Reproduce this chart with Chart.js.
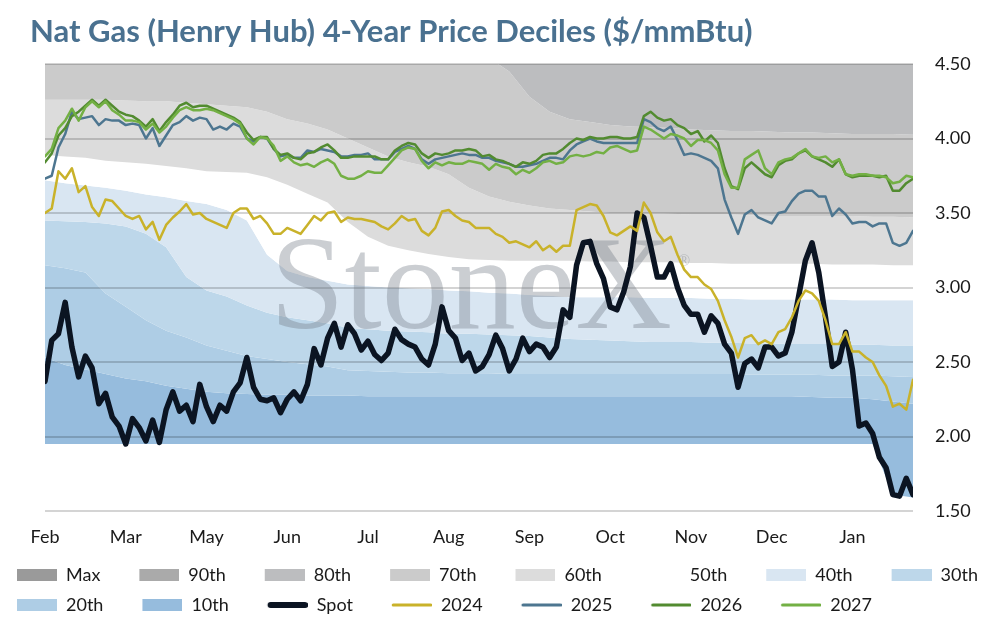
<!DOCTYPE html>
<html>
<head>
<meta charset="utf-8">
<title>Nat Gas (Henry Hub) 4-Year Price Deciles</title>
<script src="https://cdn.jsdelivr.net/npm/chart.js@4.4.1/dist/chart.umd.min.js"></script>
<style>
  html, body { margin: 0; padding: 0; background: #ffffff; }
  #box { width: 992px; height: 620px; }
  canvas { display: block; }
</style>
</head>
<body>
<div id="box"><canvas id="chart" width="992" height="620"></canvas></div>
<script>
// ---------------- data ----------------
const tickLabels = ['Feb', 'Mar', 'May', 'Jun', 'Jul', 'Aug', 'Sep', 'Oct', 'Nov', 'Dec', 'Jan'];
const bandLabels = ['Max', '90th', '80th', '70th', '60th', '50th', '40th', '30th', '20th', '10th'];
const lineLabels = ['Spot', '2024', '2025', '2026', '2027'];
const LINE_STEP = 2;   // trading days between line samples
const BAND_STEP = 6;   // trading days between decile samples
const X_MAX = 258;
const TICK_STEP = 24;

// decile boundaries ($/mmBtu), sampled every BAND_STEP days
const bandMax = [7.20, 7.19, 7.15, 7.14, 7.13, 7.09, 7.08, 7.05, 7.04, 7.01,
                 7.00, 6.97, 6.96, 6.93, 6.92, 6.90, 6.87, 6.86, 6.83, 6.82,
                 6.78, 6.76, 6.74, 6.70, 6.66, 6.64, 6.63, 6.60, 6.57, 6.56,
                 6.54, 6.51, 6.50, 6.49, 6.47, 6.47, 6.46, 6.44, 6.44, 6.43,
                 6.41, 6.41, 6.40, 6.39];
const band90 = [6.00, 5.98, 5.97, 5.94, 5.92, 5.91, 5.88, 5.86, 5.85, 5.82,
                5.80, 5.79, 5.76, 5.74, 5.73, 5.70, 5.68, 5.67, 5.64, 5.62,
                5.59, 5.57, 5.53, 5.50, 5.47, 5.45, 5.42, 5.40, 5.39, 5.36,
                5.34, 5.33, 5.30, 5.29, 5.28, 5.27, 5.26, 5.25, 5.24, 5.23,
                5.22, 5.21, 5.20, 5.19];
const band80 = [5.45, 5.43, 5.41, 5.40, 5.38, 5.36, 5.34, 5.32, 5.30, 5.28,
                5.26, 5.24, 5.22, 5.20, 5.18, 5.16, 5.14, 5.12, 5.10, 5.08,
                5.05, 5.02, 4.99, 4.96, 4.93, 4.90, 4.88, 4.86, 4.84, 4.82,
                4.80, 4.78, 4.76, 4.75, 4.74, 4.73, 4.72, 4.71, 4.70, 4.69,
                4.68, 4.67, 4.66, 4.65];
const band70 = [4.95, 4.94, 4.93, 4.92, 4.91, 4.90, 4.88, 4.87, 4.86, 4.84,
                4.82, 4.80, 4.78, 4.76, 4.74, 4.72, 4.70, 4.68, 4.66, 4.64,
                4.61, 4.58, 4.54, 4.45, 4.28, 4.18, 4.13, 4.11, 4.09, 4.08,
                4.075, 4.07, 4.06, 4.055, 4.05, 4.05, 4.045, 4.04, 4.04, 4.035,
                4.03, 4.03, 4.03, 4.025];
const band60 = [4.26, 4.26, 4.26, 4.26, 4.255, 4.25, 4.25, 4.24, 4.23, 4.22,
                4.21, 4.18, 4.13, 4.10, 4.06, 4.00, 3.94, 3.88, 3.84, 3.81,
                3.76, 3.67, 3.61, 3.575, 3.55, 3.53, 3.52, 3.51, 3.50, 3.50,
                3.50, 3.495, 3.49, 3.49, 3.49, 3.485, 3.48, 3.48, 3.48, 3.48,
                3.48, 3.475, 3.475, 3.47];
const band50 = [3.89, 3.88, 3.87, 3.85, 3.84, 3.83, 3.815, 3.80, 3.78, 3.775,
                3.77, 3.74, 3.69, 3.63, 3.57, 3.44, 3.34, 3.28, 3.25, 3.225,
                3.205, 3.19, 3.185, 3.18, 3.18, 3.18, 3.18, 3.175, 3.175, 3.17,
                3.17, 3.17, 3.165, 3.165, 3.16, 3.16, 3.16, 3.16, 3.16, 3.155,
                3.155, 3.155, 3.15, 3.15];
const band40 = [3.72, 3.70, 3.685, 3.67, 3.65, 3.625, 3.605, 3.58, 3.56, 3.52,
                3.45, 3.22, 3.11, 3.07, 3.045, 3.02, 3.01, 3.00, 2.995, 2.99,
                2.98, 2.975, 2.965, 2.96, 2.95, 2.945, 2.935, 2.935, 2.935, 2.935,
                2.93, 2.93, 2.93, 2.925, 2.925, 2.92, 2.92, 2.92, 2.92, 2.92,
                2.915, 2.915, 2.915, 2.915];
const band30 = [3.45, 3.445, 3.44, 3.43, 3.41, 3.36, 3.27, 3.07, 2.98, 2.94,
                2.88, 2.83, 2.80, 2.78, 2.76, 2.73, 2.72, 2.71, 2.705, 2.70,
                2.69, 2.69, 2.685, 2.68, 2.675, 2.665, 2.655, 2.65, 2.645, 2.64,
                2.635, 2.635, 2.635, 2.63, 2.63, 2.625, 2.625, 2.62, 2.62, 2.62,
                2.615, 2.615, 2.61, 2.61];
const band20 = [3.15, 3.13, 3.10, 2.96, 2.87, 2.78, 2.71, 2.665, 2.61, 2.575,
                2.54, 2.52, 2.50, 2.485, 2.47, 2.445, 2.44, 2.435, 2.43, 2.43,
                2.425, 2.425, 2.425, 2.42, 2.42, 2.42, 2.42, 2.42, 2.42, 2.42,
                2.42, 2.42, 2.42, 2.42, 2.42, 2.415, 2.415, 2.415, 2.415, 2.41,
                2.41, 2.41, 2.405, 2.40];
const band10 = [2.53, 2.48, 2.45, 2.42, 2.39, 2.37, 2.34, 2.32, 2.30, 2.29,
                2.285, 2.28, 2.28, 2.275, 2.275, 2.275, 2.27, 2.27, 2.27, 2.27,
                2.27, 2.27, 2.27, 2.27, 2.27, 2.27, 2.27, 2.27, 2.27, 2.27,
                2.27, 2.27, 2.27, 2.27, 2.27, 2.27, 2.27, 2.27, 2.265, 2.26,
                2.26, 2.25, 2.235, 2.22];
const bandMin = [1.95, 1.95, 1.95, 1.95, 1.95, 1.95, 1.95, 1.95, 1.95, 1.95,
                 1.95, 1.95, 1.95, 1.95, 1.95, 1.95, 1.95, 1.95, 1.95, 1.95,
                 1.95, 1.95, 1.95, 1.95, 1.95, 1.95, 1.95, 1.95, 1.95, 1.95,
                 1.95, 1.95, 1.95, 1.95, 1.95, 1.95, 1.95, 1.95, 1.95, 1.95,
                 1.95, 1.95, 1.61, 1.59];

// price series, sampled every LINE_STEP days
const spot = [2.37, 2.645, 2.69, 2.90, 2.60, 2.40, 2.54, 2.46, 2.22, 2.29,
              2.13, 2.07, 1.95, 2.12, 2.06, 1.97, 2.11, 1.96, 2.18, 2.30,
              2.17, 2.21, 2.10, 2.35, 2.20, 2.10, 2.21, 2.17, 2.30, 2.36,
              2.53, 2.33, 2.25, 2.24, 2.26, 2.16, 2.25, 2.30, 2.24, 2.35,
              2.59, 2.48, 2.66, 2.76, 2.60, 2.75, 2.69, 2.58, 2.64, 2.55,
              2.51, 2.56, 2.72, 2.65, 2.62, 2.60, 2.52, 2.48, 2.62, 2.87,
              2.71, 2.66, 2.51, 2.56, 2.44, 2.47, 2.55, 2.68, 2.59, 2.44,
              2.52, 2.66, 2.57, 2.62, 2.60, 2.53, 2.60, 2.85, 2.80, 3.15,
              3.30, 3.31, 3.16, 3.06, 2.87, 2.85, 2.97, 3.14, 3.50, 3.47,
              3.28, 3.07, 3.07, 3.16, 3.00, 2.88, 2.82, 2.82, 2.70, 2.81,
              2.76, 2.62, 2.56, 2.33, 2.49, 2.52, 2.46, 2.60, 2.60, 2.54,
              2.56, 2.70, 2.94, 3.18, 3.30, 3.10, 2.80, 2.47, 2.50, 2.70,
              2.45, 2.07, 2.09, 2.02, 1.86, 1.79, 1.61, 1.60, 1.72, 1.61];
const y2024 = [3.50, 3.53, 3.78, 3.73, 3.80, 3.64, 3.68, 3.54, 3.48, 3.59,
               3.58, 3.53, 3.48, 3.46, 3.48, 3.39, 3.44, 3.32, 3.42, 3.47,
               3.51, 3.56, 3.49, 3.50, 3.46, 3.44, 3.42, 3.40, 3.50, 3.53,
               3.53, 3.46, 3.48, 3.43, 3.36, 3.36, 3.40, 3.38, 3.36, 3.42,
               3.48, 3.45, 3.50, 3.51, 3.44, 3.47, 3.46, 3.46, 3.45, 3.44,
               3.41, 3.39, 3.43, 3.48, 3.45, 3.46, 3.38, 3.35, 3.40, 3.51,
               3.52, 3.48, 3.45, 3.44, 3.40, 3.40, 3.40, 3.36, 3.34, 3.30,
               3.31, 3.29, 3.27, 3.31, 3.25, 3.28, 3.24, 3.28, 3.28, 3.52,
               3.54, 3.56, 3.55, 3.48, 3.37, 3.35, 3.38, 3.41, 3.38, 3.57,
               3.50, 3.37, 3.31, 3.34, 3.22, 3.12, 3.07, 3.07, 3.02, 2.99,
               2.91, 2.78, 2.67, 2.53, 2.66, 2.68, 2.62, 2.645, 2.62, 2.70,
               2.72, 2.80, 2.91, 2.98, 2.96, 2.91, 2.78, 2.62, 2.62, 2.70,
               2.57, 2.57, 2.53, 2.50, 2.41, 2.34, 2.20, 2.22, 2.18, 2.38];
const y2025 = [3.73, 3.75, 3.94, 4.03, 4.18, 4.13, 4.14, 4.15, 4.09, 4.13,
               4.12, 4.12, 4.09, 4.10, 4.09, 4.00, 4.07, 3.95, 4.02, 4.09,
               4.11, 4.15, 4.12, 4.14, 4.13, 4.06, 4.08, 4.06, 4.10, 4.08,
               4.00, 3.98, 4.01, 4.00, 3.93, 3.88, 3.89, 3.87, 3.87, 3.92,
               3.91, 3.93, 3.92, 3.91, 3.88, 3.88, 3.89, 3.89, 3.90, 3.86,
               3.86, 3.86, 3.91, 3.93, 3.95, 3.93, 3.86, 3.83, 3.86, 3.87,
               3.88, 3.89, 3.90, 3.89, 3.89, 3.87, 3.87, 3.85, 3.84, 3.83,
               3.81, 3.81, 3.82, 3.83, 3.85, 3.87, 3.87, 3.86, 3.92, 3.96,
               3.98, 4.00, 3.98, 3.97, 3.97, 3.97, 3.97, 3.97, 3.97, 4.13,
               4.11, 4.07, 4.05, 4.08, 3.99, 3.89, 3.90, 3.89, 3.87, 3.85,
               3.80, 3.59, 3.47, 3.36, 3.49, 3.52, 3.47, 3.45, 3.43, 3.50,
               3.51, 3.58, 3.63, 3.65, 3.65, 3.61, 3.61, 3.48, 3.53, 3.49,
               3.43, 3.44, 3.44, 3.41, 3.43, 3.43, 3.30, 3.28, 3.30, 3.38];
const y2026 = [3.84, 3.90, 4.02, 4.07, 4.15, 4.18, 4.22, 4.26, 4.22, 4.26,
               4.22, 4.18, 4.16, 4.15, 4.12, 4.08, 4.13, 4.05, 4.11, 4.16,
               4.22, 4.24, 4.21, 4.22, 4.22, 4.20, 4.18, 4.16, 4.14, 4.11,
               4.04, 3.99, 4.01, 4.01, 3.93, 3.89, 3.90, 3.87, 3.86, 3.90,
               3.91, 3.94, 3.96, 3.92, 3.87, 3.87, 3.88, 3.88, 3.88, 3.88,
               3.86, 3.86, 3.92, 3.95, 3.97, 3.96, 3.90, 3.87, 3.90, 3.89,
               3.90, 3.92, 3.92, 3.93, 3.92, 3.88, 3.89, 3.86, 3.85, 3.83,
               3.81, 3.84, 3.83, 3.85, 3.89, 3.90, 3.90, 3.93, 3.97, 4.00,
               3.99, 4.01, 4.00, 4.00, 4.01, 4.01, 4.00, 4.00, 4.01, 4.15,
               4.18, 4.14, 4.12, 4.13, 4.09, 4.07, 4.03, 4.05, 3.98, 4.02,
               3.97, 3.80, 3.68, 3.66, 3.80, 3.84, 3.80, 3.76, 3.74, 3.82,
               3.85, 3.86, 3.90, 3.92, 3.88, 3.86, 3.84, 3.81, 3.86, 3.76,
               3.74, 3.75, 3.75, 3.75, 3.74, 3.75, 3.65, 3.65, 3.70, 3.73];
const y2027 = [3.88, 3.93, 4.07, 4.12, 4.20, 4.12, 4.21, 4.25, 4.21, 4.25,
               4.19, 4.16, 4.12, 4.12, 4.11, 4.06, 4.10, 4.04, 4.08, 4.14,
               4.19, 4.21, 4.19, 4.19, 4.20, 4.19, 4.17, 4.15, 4.13, 4.10,
               4.00, 3.96, 4.01, 4.00, 3.95, 3.85, 3.88, 3.84, 3.82, 3.83,
               3.81, 3.84, 3.86, 3.83, 3.75, 3.73, 3.73, 3.75, 3.78, 3.77,
               3.77, 3.82, 3.87, 3.92, 3.94, 3.93, 3.85, 3.80, 3.84, 3.82,
               3.84, 3.83, 3.83, 3.85, 3.84, 3.83, 3.79, 3.83, 3.81, 3.80,
               3.76, 3.79, 3.77, 3.80, 3.84, 3.85, 3.83, 3.84, 3.88, 3.89,
               3.88, 3.89, 3.91, 3.90, 3.94, 3.95, 3.93, 3.91, 3.92, 4.08,
               4.06, 4.03, 4.00, 4.03, 4.02, 4.00, 3.95, 3.99, 3.99, 3.97,
               3.92, 3.76, 3.67, 3.67, 3.86, 3.89, 3.92, 3.80, 3.76, 3.84,
               3.86, 3.87, 3.90, 3.93, 3.88, 3.87, 3.88, 3.84, 3.86, 3.76,
               3.75, 3.76, 3.76, 3.75, 3.75, 3.74, 3.70, 3.71, 3.75, 3.74];

// ---------------- styles ----------------
const bandColors = ['#9a9a9a', '#aaaaaa', '#bcbdbf', '#cbcbcb', '#dcdcdc', '#ffffff',
                    '#d9e6f2', '#bdd7ea', '#aecde5', '#96bcdd'];
const lineColors = ['#0b1422', '#c9b22a', '#4d7690', '#528b30', '#73b044'];
const lineWidths = [5.5, 2.5, 2.5, 2.5, 2.5];

Chart.defaults.font.family = 'Lato, "Noto Sans", sans-serif';
Chart.defaults.font.size = 18;
Chart.defaults.color = '#1a1a1a';

// legend swatches (box / line sample) drawn into small canvases
const SW_W = 67, SW_H = 14, SW_BOX = 40;
function swatchRect(color) {
  const c = document.createElement('canvas');
  c.width = SW_W; c.height = SW_H;
  const g = c.getContext('2d');
  g.fillStyle = color;
  g.fillRect(SW_W - SW_BOX, 1, SW_BOX, 12);
  return c;
}
function swatchLine(color, w) {
  const c = document.createElement('canvas');
  c.width = SW_W; c.height = SW_H;
  const g = c.getContext('2d');
  g.strokeStyle = color;
  g.lineWidth = w + 0.5;
  g.lineCap = 'round';
  g.beginPath();
  g.moveTo(SW_W - SW_BOX + w / 2, SW_H / 2);
  g.lineTo(SW_W - w / 2, SW_H / 2);
  g.stroke();
  return c;
}

const bandSeries = [bandMax, band90, band80, band70, band60, band50, band40, band30, band20, band10];
const lineSeries = [spot, y2024, y2025, y2026, y2027];
const MIN_INDEX = bandSeries.length + lineSeries.length;

const datasets = [];
bandSeries.forEach((vals, k) => {
  datasets.push({
    label: bandLabels[k],
    data: vals.map((v, j) => ({ x: j * BAND_STEP, y: v })),
    borderWidth: 0,
    borderColor: bandColors[k],
    backgroundColor: bandColors[k],
    fill: k < bandSeries.length - 1 ? '+1' : MIN_INDEX,
    pointRadius: 0,
    pointHoverRadius: 0,
    pointStyle: swatchRect(bandColors[k]),
    order: 20 + k
  });
});
lineSeries.forEach((vals, k) => {
  datasets.push({
    label: lineLabels[k],
    data: vals.map((v, i) => ({ x: i * LINE_STEP, y: v })),
    borderWidth: lineWidths[k],
    borderColor: lineColors[k],
    backgroundColor: lineColors[k],
    fill: false,
    pointRadius: 0,
    pointHoverRadius: 0,
    borderJoinStyle: 'round',
    borderCapStyle: 'round',
    pointStyle: swatchLine(lineColors[k], lineWidths[k]),
    order: lineSeries.length - 1 - k
  });
});
datasets.push({
  label: 'Min',
  data: bandMin.map((v, j) => ({ x: j * BAND_STEP, y: v })),
  borderWidth: 0,
  fill: false,
  pointRadius: 0,
  pointHoverRadius: 0,
  order: 40,
  hideInLegend: true
});

// watermark text drawn behind the price lines
const watermark = {
  id: 'watermark',
  beforeDatasetsDraw(chart) {
    const ctx = chart.ctx;
    ctx.save();
    ctx.fillStyle = 'rgba(112,118,130,0.36)';
    ctx.textBaseline = 'alphabetic';
    ctx.textAlign = 'left';
    ctx.font = '134px "Liberation Serif", "DejaVu Serif", serif';
    ctx.fillText('StoneX', 270, 328);
    ctx.font = '16px "Liberation Serif", "DejaVu Serif", serif';
    ctx.fillText('\u00AE', 678, 266);
    ctx.restore();
  }
};

// place title and legend like the original layout
const placeBoxes = {
  id: 'placeBoxes',
  afterLayout(chart) {
    const t = chart.titleBlock;
    if (t) { t.left = 30; }
    const lg = chart.legend;
    if (lg) {
      lg.left = -22;
      lg.right = 1000;
      lg.top = 554;
      lg.bottom = 640;
      lg.width = lg.right - lg.left;
      lg.height = lg.bottom - lg.top;
    }
  }
};

new Chart(document.getElementById('chart'), {
  type: 'line',
  data: { datasets },
  plugins: [watermark, placeBoxes],
  options: {
    responsive: false,
    animation: false,
    events: [],
    layout: { padding: { left: 45, right: 0, top: 0, bottom: 0 } },
    scales: {
      x: {
        type: 'linear',
        min: 0,
        max: X_MAX,
        grid: { display: false, drawTicks: false },
        border: { display: false },
        ticks: {
          stepSize: TICK_STEP,
          autoSkip: false,
          includeBounds: false,
          maxRotation: 0,
          padding: 15,
          color: '#1a1a1a',
          font: { size: 18 },
          callback: (v) => tickLabels[Math.round(v / TICK_STEP)] ?? ''
        },
        afterFit: (s) => { s.height = 37; }
      },
      y: {
        position: 'right',
        min: 1.5,
        max: 4.5,
        border: { display: false },
        grid: { color: 'rgba(0,0,0,0.17)', lineWidth: 2, drawTicks: false },
        ticks: {
          stepSize: 0.5,
          padding: 22,
          color: '#1a1a1a',
          font: { size: 18 },
          callback: (v) => Number(v).toFixed(2)
        },
        afterFit: (s) => { s.width = 79; }
      }
    },
    plugins: {
      filler: { drawTime: 'beforeDraw', propagate: false },
      tooltip: { enabled: false },
      title: {
        display: true,
        text: 'Nat Gas (Henry Hub) 4-Year Price Deciles ($/mmBtu)',
        align: 'start',
        color: '#4a7190',
        font: { size: 31, weight: '700' },
        padding: { top: 13.5, bottom: 13.3 }
      },
      legend: {
        display: true,
        position: 'bottom',
        align: 'start',
        maxHeight: 72,
        labels: {
          usePointStyle: true,
          pointStyleWidth: SW_W,
          boxHeight: 18,
          padding: 12,
          color: '#1a1a1a',
          font: { size: 18 },
          sort: (a, b) => a.datasetIndex - b.datasetIndex,
          filter: (item, data) => !data.datasets[item.datasetIndex].hideInLegend
        }
      }
    }
  }
});
</script>
</body>
</html>
